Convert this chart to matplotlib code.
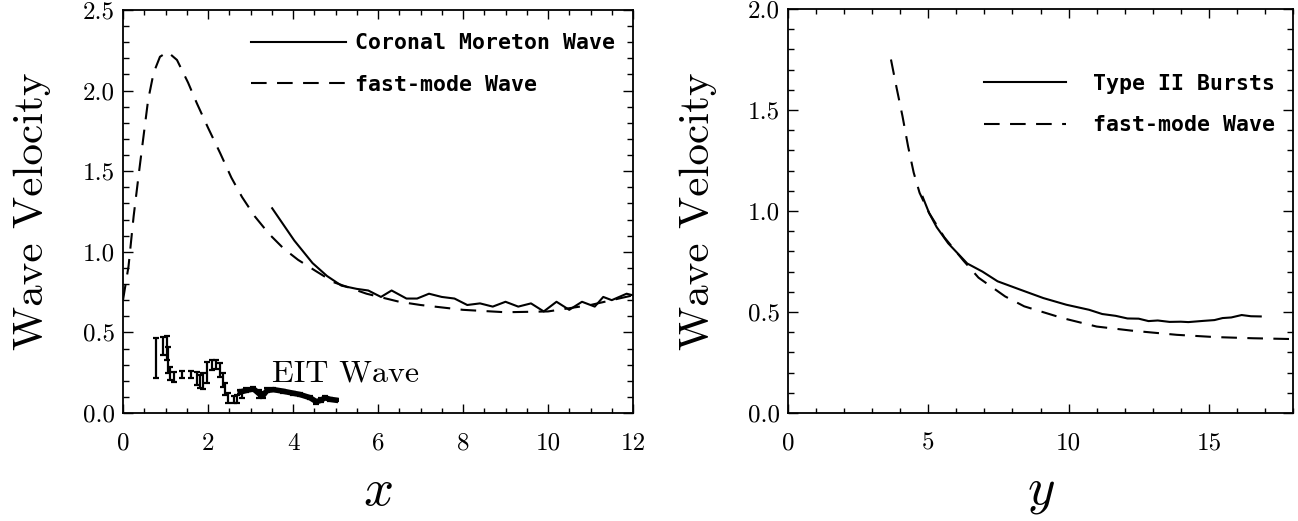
import matplotlib
matplotlib.use("Agg")
import numpy as np
import matplotlib.pyplot as plt
from matplotlib.ticker import MultipleLocator, FormatStrFormatter

plt.rcParams['mathtext.fontset'] = 'cm'

# left panel: coronal Moreton wave vs fast-mode wave
fast1_x = [0.0, 0.13, 0.25, 0.37, 0.47, 0.59, 0.72, 0.87, 1.05, 1.27, 1.53, 1.74,
           2.0, 2.29, 2.55, 2.8, 3.1, 3.44, 3.78, 4.12, 4.54, 4.97, 5.73, 6.5,
           7.0, 8.0, 9.0, 10.0, 11.0, 12.0]
fast1_y = [0.70, 0.91, 1.22, 1.48, 1.69, 1.94, 2.11, 2.21, 2.24, 2.19, 2.05, 1.92,
           1.77, 1.61, 1.46, 1.34, 1.22, 1.11, 1.02, 0.95, 0.88, 0.81, 0.74, 0.69,
           0.67, 0.64, 0.625, 0.63, 0.67, 0.73]

moreton_x = [3.51, 4.03, 4.46, 4.8, 5.14, 5.5, 5.77, 6.07, 6.32, 6.67, 6.92, 7.2,
             7.5, 7.8, 8.1, 8.4, 8.7, 9.0, 9.3, 9.6, 9.9, 10.2, 10.5, 10.8,
             11.1, 11.3, 11.5, 11.85, 12.0]
moreton_y = [1.27, 1.07, 0.93, 0.85, 0.79, 0.77, 0.76, 0.72, 0.76, 0.71, 0.71, 0.74,
             0.72, 0.71, 0.67, 0.68, 0.66, 0.69, 0.66, 0.68, 0.63, 0.69, 0.64, 0.69,
             0.66, 0.72, 0.70, 0.74, 0.73]

# EIT wave, sparse error bars (low / high ends)
eit_x = [0.78, 0.95, 1.03, 1.07, 1.10, 1.20, 1.38, 1.59, 1.73, 1.80, 1.89, 1.98,
         2.09, 2.19, 2.28, 2.35, 2.40, 2.48, 2.60, 2.69, 2.79]
eit_lo = [0.215, 0.36, 0.33, 0.246, 0.205, 0.194, 0.215, 0.215, 0.174, 0.153, 0.147, 0.184,
          0.267, 0.27, 0.225, 0.163, 0.112, 0.064, 0.064, 0.064, 0.091]
eit_hi = [0.463, 0.47, 0.475, 0.41, 0.287, 0.256, 0.26, 0.26, 0.256, 0.236, 0.25, 0.318,
          0.328, 0.33, 0.308, 0.246, 0.184, 0.122, 0.105, 0.11, 0.143]

# EIT wave, dense part
eit2_x = [2.76, 2.9, 3.07, 3.2, 3.3, 3.39, 3.54, 3.77, 4.0, 4.16, 4.4, 4.55,
          4.67, 4.75, 4.87, 5.0]
eit2_y = [0.13, 0.14, 0.15, 0.12, 0.11, 0.14, 0.145, 0.135, 0.123, 0.115, 0.095, 0.07,
          0.08, 0.095, 0.085, 0.08]
eit2_err = [0.012, 0.012, 0.012, 0.025, 0.02, 0.012, 0.01, 0.01, 0.01, 0.01, 0.01, 0.012,
            0.012, 0.01, 0.01, 0.008]

# right panel: type II bursts vs fast-mode wave
fast2_x = [3.67, 3.87, 4.08, 4.28, 4.48, 4.69, 5.03, 5.57, 6.25, 6.79, 7.74, 8.42,
           9.78, 11.0, 12.23, 13.86, 15.2, 16.58, 18.0]
fast2_y = [1.75, 1.61, 1.47, 1.32, 1.19, 1.09, 0.99, 0.87, 0.755, 0.67, 0.577, 0.528,
           0.47, 0.428, 0.408, 0.387, 0.376, 0.37, 0.366]

typeii_x = [4.8, 5.03, 5.3, 5.71, 6.39, 6.93, 7.47, 8.29, 9.1, 9.92, 10.73, 11.2,
            11.68, 12.1, 12.5, 12.85, 13.18, 13.6, 14.0, 14.27, 14.8, 15.2, 15.49,
            15.8, 16.17, 16.5, 16.85]
typeii_y = [1.07, 0.99, 0.92, 0.84, 0.74, 0.70, 0.652, 0.61, 0.569, 0.536, 0.511, 0.49,
            0.481, 0.468, 0.467, 0.455, 0.458, 0.451, 0.452, 0.45, 0.456, 0.46, 0.47,
            0.473, 0.485, 0.479, 0.478]

dash = (0, (7.5, 5))
tickfont = 'cmr10'
legfont = {'family': 'DejaVu Sans Mono', 'weight': 'bold', 'size': 15.5}


def style_axes(ax, xmaj, xmin, ymaj, ymin):
    ax.xaxis.set_major_locator(MultipleLocator(xmaj))
    ax.xaxis.set_minor_locator(MultipleLocator(xmin))
    ax.yaxis.set_major_locator(MultipleLocator(ymaj))
    ax.yaxis.set_minor_locator(MultipleLocator(ymin))
    ax.yaxis.set_major_formatter(FormatStrFormatter('%.1f'))
    ax.tick_params(which='both', direction='in', top=True, right=True, width=1.0)
    ax.tick_params(axis='y', which='major', length=7.5, pad=6)
    ax.tick_params(axis='y', which='minor', length=4)
    ax.tick_params(axis='x', which='major', length=6.5, pad=14)
    ax.tick_params(axis='x', which='minor', length=3.5)
    for lab in ax.get_xticklabels() + ax.get_yticklabels():
        lab.set_fontfamily(tickfont)
        lab.set_fontsize(18)
    for s in ax.spines.values():
        s.set_linewidth(1.3)
    ax.set_ylabel('Wave Velocity', fontfamily='cmr10', fontsize=31)
    ax.yaxis.set_label_coords(-0.178, 0.5)
    ax.yaxis.label.set_va('center')


fig = plt.figure(figsize=(12.98, 5.21), dpi=100)

ax1 = fig.add_axes([123 / 1298, 108 / 521, 510 / 1298, 403 / 521])
ax1.plot(moreton_x, moreton_y, color='black', lw=1.5, label='Coronal Moreton Wave')
ax1.plot(fast1_x, fast1_y, color='black', lw=1.5, ls=dash, label='fast-mode Wave')
eit_mid = [(a + b) / 2 for a, b in zip(eit_lo, eit_hi)]
eit_half = [(b - a) / 2 for a, b in zip(eit_lo, eit_hi)]
ax1.errorbar(eit_x, eit_mid, yerr=eit_half, fmt='none', ecolor='black',
             elinewidth=1.6, capsize=2.3, capthick=1.6)
ax1.plot(eit2_x, eit2_y, color='black', lw=4)
ax1.errorbar(eit2_x, eit2_y, yerr=eit2_err, fmt='none', ecolor='black',
             elinewidth=1.6, capsize=2.3, capthick=1.6)
ax1.text(3.5, 0.194, 'EIT Wave', fontfamily='cmr10', fontsize=23, va='baseline')
ax1.set_xlim(0, 12)
ax1.set_ylim(0, 2.5)
style_axes(ax1, 2, 0.5, 0.5, 0.1)
ax1.set_xlabel('$x$', fontsize=38)
ax1.xaxis.set_label_coords(0.5, -0.19)
ax1.xaxis.label.set_va('center')
ax1.legend(loc='upper left', bbox_to_anchor=(0.251, 0.942), frameon=False,
           prop=legfont, handlelength=4.4,
           handletextpad=0.45, labelspacing=1.0, borderpad=0, borderaxespad=0)

ax2 = fig.add_axes([788 / 1298, 108 / 521, 505 / 1298, 404 / 521])
ax2.plot(typeii_x, typeii_y, color='black', lw=1.5, label='Type II Bursts')
ax2.plot(fast2_x, fast2_y, color='black', lw=1.5, ls=dash, label='fast-mode Wave')
ax2.set_xlim(0, 18)
ax2.set_ylim(0, 2.0)
style_axes(ax2, 5, 1, 0.5, 0.1)
ax2.set_xlabel('$y$', fontsize=38)
ax2.xaxis.set_label_coords(0.5, -0.19)
ax2.xaxis.label.set_va('center')
ax2.legend(loc='upper left', bbox_to_anchor=(0.388, 0.84), frameon=False,
           prop=legfont, handlelength=3.8,
           handletextpad=1.25, labelspacing=1.0, borderpad=0, borderaxespad=0)

fig.savefig('out.png', dpi=100)
